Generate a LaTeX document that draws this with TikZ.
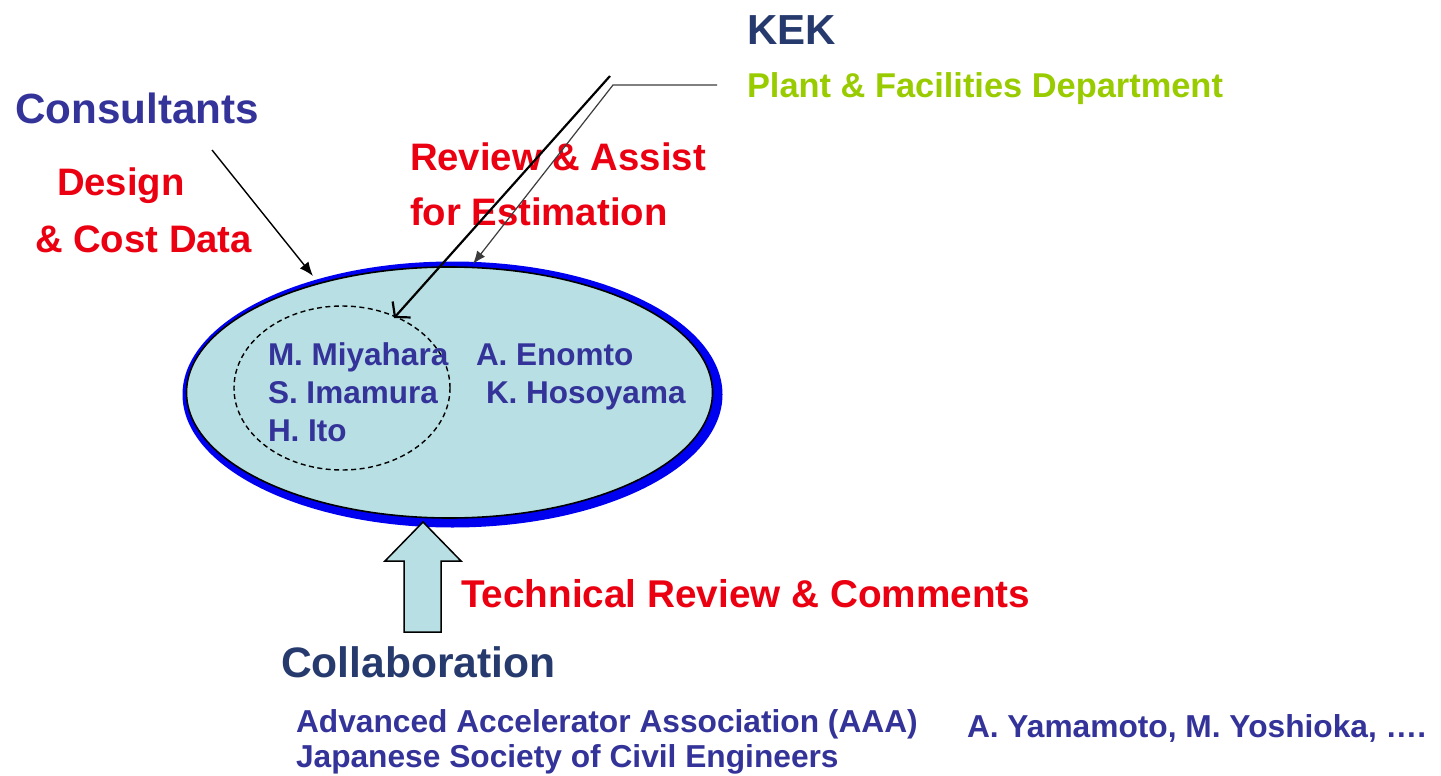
\documentclass[tikz,border=0pt]{standalone}
\usepackage{fontspec}
\setmainfont{Liberation Sans}
\usetikzlibrary{arrows.meta}
\definecolor{redtxt}{RGB}{235,0,18}
\definecolor{nametxt}{RGB}{51,51,153}
\definecolor{navy}{RGB}{38,58,110}
\definecolor{kekgreen}{RGB}{153,204,0}
\definecolor{ellfill}{RGB}{184,223,227}
\definecolor{ringblue}{RGB}{0,0,240}
\definecolor{leadgray}{RGB}{60,60,60}
\newcommand{\fsz}[1]{\fontsize{#1}{#1}\selectfont\bfseries}
\begin{document}
\begin{tikzpicture}[x=1pt,y=-1pt,
  txt/.style={anchor=base west, inner sep=0pt, outer sep=0pt},
  redlbl/.style={txt, text=redtxt, font=\fsz{38.3}},
  namelbl/.style={txt, text=nametxt, font=\fsz{31.5}},
  navylbl/.style={txt, text=navy, font=\fsz{42.2}},
  orglbl/.style={txt, text=nametxt, font=\fsz{31.7}},
  thinarrow/.style={line width=1.4pt, black, -{Latex[length=14pt,width=11pt]}},
  grayarrow/.style={line width=1.2pt, leadgray, -{Latex[length=13pt,width=10pt]}},
  openarrow/.style={line width=2.2pt, black, -{Straight Barb[length=10pt,width=24pt,line width=2.2pt]}},
  blockarrow/.style={fill=ellfill, draw=black, line width=1.5pt, line join=miter}
]
\useasboundingbox (0,0) rectangle (1441,776);
\fill[white] (0,0) rectangle (1441,776);

% central ellipse with blue ring (offset shadow)
\coordinate (ringc) at (452.5,394.5);
\coordinate (ec) at (449.5,392.5);
\coordinate (dc) at (342,388);
\fill[ringblue] (ringc) ellipse [x radius=270pt, y radius=133pt];
\filldraw[fill=ellfill, draw=black, line width=1.6pt] (ec) ellipse [x radius=263pt, y radius=125.5pt];
\draw[black, line width=1.4pt, dash pattern=on 5pt off 3.5pt] (dc) ellipse [x radius=108pt, y radius=82pt];

% names
\node[namelbl] (miya) at (268,365) {M. Miyahara};
\node[namelbl] (enom) at (476,365) {A. Enomto};
\node[namelbl] (imam) at (268,403) {S. Imamura};
\node[namelbl] (hoso) at (486,403) {K. Hosoyama};
\node[namelbl] (ito)  at (268,441) {H. Ito};

% labels
\node[navylbl, text=nametxt] (cons) at (15,123) {Consultants};
\node[redlbl] (design) at (57,195) {Design};
\node[redlbl] (cost) at (35,252) {\& Cost Data};
\node[navylbl, font=\fsz{42}] (kek) at (747,45) {KEK};
\node[txt, text=kekgreen, font=\fsz{34.4}] (plant) at (747,97) {Plant \& Facilities Department};
\node[redlbl] (review) at (410,170) {Review \& Assist};
\node[redlbl] (estim) at (410,225) {for Estimation};
\node[redlbl, font=\fsz{38.7}] (tech) at (461,607) {Technical Review \& Comments};
\node[navylbl, font=\fsz{42.6}] (collab) at (281,677) {Collaboration};
\node[orglbl] (aaa) at (296,732) {Advanced Accelerator Association (AAA)};
\node[orglbl] (jsce) at (296,767) {Japanese Society of Civil Engineers};
\node[orglbl] (yama) at (967,737) {A. Yamamoto, M. Yoshioka, ….};

% connectors
\coordinate (c1) at (212,150);
\coordinate (c2) at (313,276);
\draw[thinarrow] (c1) -- (c2);

\coordinate (r0) at (717,85);
\coordinate (r1) at (613,85);
\coordinate (r2) at (473,264);
\draw[grayarrow] (r0) -- (r1) -- (r2);

\coordinate (k1) at (610,76);
\coordinate (k2) at (394,318);
\draw[openarrow] (k1) -- (k2);

% block arrow up
\draw[blockarrow] (423,522) -- (461,561) -- (441,561) -- (441,632) -- (404,632) -- (404,561) -- (385,561) -- cycle;
\end{tikzpicture}
\end{document}
